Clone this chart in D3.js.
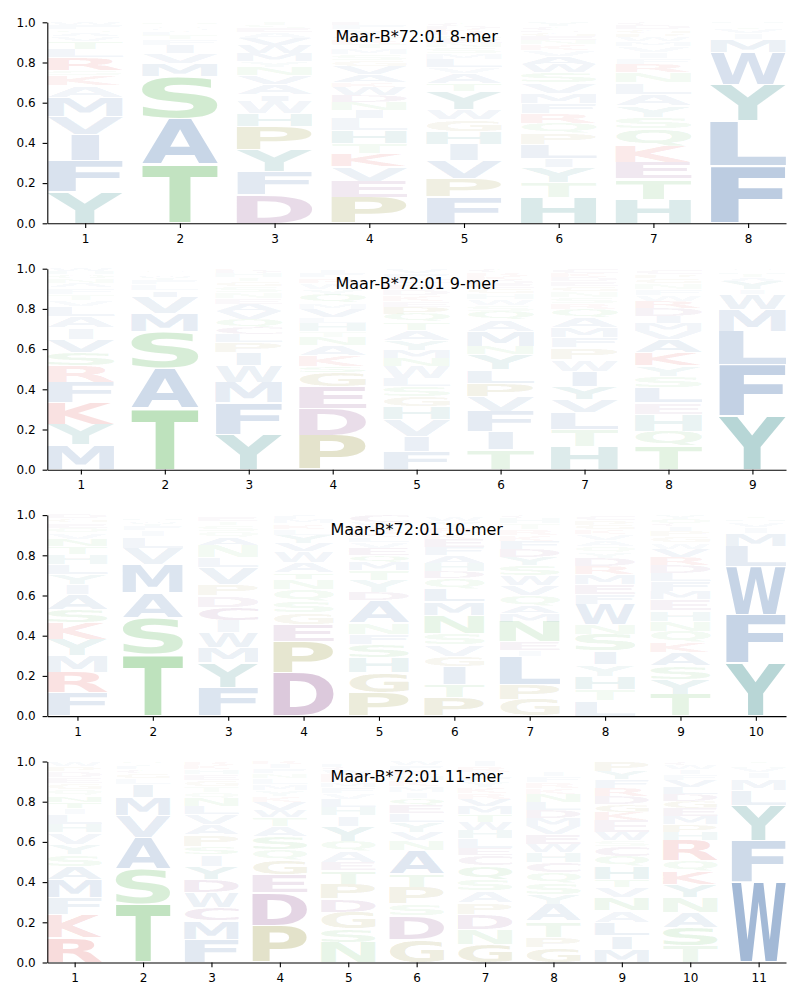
<!DOCTYPE html>
<html><head><meta charset="utf-8">
<script src="https://cdn.jsdelivr.net/npm/d3@7"></script>
<style>body{margin:0;background:#fff}</style>
</head><body>
<svg id="chart" width="800" height="1000"></svg>
<script>
// ---------- data (each column: letters from bottom to top, "Letter+frequency") ----------
const titles = ["Maar-B*72:01 8-mer", "Maar-B*72:01 9-mer", "Maar-B*72:01 10-mer", "Maar-B*72:01 11-mer"];
const yTicks = [0, 0.2, 0.4, 0.6, 0.8, 1.0];

const mer8 = [
  "Y.157 F.155 I.13 V.09 M.095 A.06 K.05 S.025 R.065 L.04 T.04 V.02 A.02 Q.015 F.02 W.018",
  "T.29 A.23 S.21 M.066 V.05 I.04 F.03 T.02 L.015 Y.01 W.01 Q.01 C.01 N.009",
  "D.14 F.115 Y.11 P.115 H.066 W.06 I.033 A.05 V.045 N.04 Y.03 M.04 W.04 V.035 A.03 E.02 S.015 T.015",
  "P.13 E.08 V.07 K.066 T.05 H.066 L.06 I.04 N.04 D.035 W.04 K.025 A.04 V.04 G.03 S.03 M.03 T.02 R.02 Q.02 Y.03 F.02 E.018",
  "F.13 P.09 V.09 I.08 H.066 G.058 W.05 Y.09 T.04 A.05 V.03 L.04 M.03 S.03 N.02 E.02 Q.02 R.015 K.015 D.016 C.02",
  "H.13 T.075 Y.075 I.04 L.07 P.058 Q.05 R.05 F.05 M.05 V.05 S.05 W.04 A.04 V.03 K.03 N.02 E.02 G.02 D.012 C.02 Y.02",
  "H.12 T.1 E.083 K.083 Q.083 S.058 Y.058 A.058 L.058 N.05 R.04 F.03 I.03 V.03 M.025 W.02 P.02 G.02 D.02 C.014",
  "F.285 L.224 Y.18 W.16 M.066 I.03 V.02 T.01 A.01 S.008 H.007"
];
const mer9 = [
  "M.125 Y.1 K.108 F.1 R.083 S.066 V.066 I.058 A.058 L.05 V.03 T.03 F.03 A.025 N.02 Q.02 H.015 W.016",
  "T.305 A.2 S.18 M.09 V.083 I.033 L.03 F.02 Y.015 W.012 C.012 Q.01 G.01",
  "Y.175 F.158 M.1 W.083 I.066 P.05 L.04 C.035 Q.04 V.04 A.035 E.03 N.03 S.03 G.025 T.02 H.02 D.015 K.008",
  "P.17 D.133 E.108 G.07 S.033 K.055 A.05 N.04 T.03 H.04 L.03 V.04 M.03 Q.04 Y.03 W.03 R.025 F.02 I.015 C.011",
  "F.09 I.075 V.083 H.066 G.05 S.05 L.04 W.06 N.04 M.04 Y.05 A.05 T.04 Q.04 P.035 E.03 K.03 D.03 R.025 C.026 F.025 V.025",
  "T.1 I.09 F.1 V.075 P.066 L.066 Y.075 N.04 M.075 A.06 Q.04 S.03 W.03 H.03 G.025 E.02 D.02 K.02 R.018 C.02",
  "H.117 T.083 L.083 V.066 Y.066 I.075 W.058 P.058 F.05 M.05 A.05 Q.04 R.03 S.03 N.03 G.025 E.025 D.02 K.02 C.024",
  "T.117 Q.075 H.083 E.058 L.075 S.058 Y.05 K.066 A.066 V.04 M.04 I.035 D.04 R.035 W.03 F.03 N.03 G.025 P.02 C.025",
  "Y.267 F.253 L.167 M.108 W.075 I.025 Y.04 A.02 T.015 H.01 S.01 Q.01"
];
const mer10 = [
  "F.116 R.1 M.083 Y.083 K.083 S.066 A.075 I.05 Y.05 L.05 H.05 T.04 N.035 V.03 Q.025 E.025 G.02 D.02",
  "T.307 S.182 A.124 M.14 V.083 L.058 I.03 F.02 Y.015 W.013 H.01 C.01 Q.008",
  "F.14 Y.124 M.075 W.075 I.06 C.066 D.058 P.058 V.083 L.05 N.06 A.04 Q.03 S.03 T.02 E.02 G.011",
  "D.215 P.158 E.083 G.058 S.058 Q.058 N.05 T.033 A.05 W.058 V.04 Y.04 L.03 K.025 M.02 F.015 I.01",
  "P.116 G.1 H.075 S.066 F.05 N.058 A.108 D.04 Y.06 T.05 M.04 Q.035 E.035 V.03 L.025 K.02 R.02 I.02 W.017 C.035",
  "P.09 T.066 I.09 G.05 V.058 S.058 N.09 M.066 L.066 Q.05 D.035 H.04 A.04 F.04 E.04 K.03 R.03 Y.03 W.02 C.011",
  "G.083 P.075 L.14 I.03 E.04 N.1 M.04 A.04 Q.05 V.05 W.05 S.05 Y.04 D.04 F.04 K.03 R.03 T.03 H.027 C.015",
  "L.075 T.058 H.066 Y.058 I.066 S.083 N.05 W.1 F.05 E.05 M.05 R.04 D.04 Y.03 Q.03 A.03 V.03 K.02 G.024 P.025 C.025",
  "T.108 Y.075 S.066 A.066 K.05 Q.058 N.05 H.05 E.058 M.04 F.05 L.04 D.04 R.04 V.04 W.03 G.03 P.03 I.02 C.014 Q.025 Y.02",
  "Y.265 F.24 W.24 L.1 M.066 I.03 V.02 A.01 H.01 T.009 S.01"
];
const mer11 = [
  "R.124 K.116 F.083 M.09 A.066 S.058 Y.05 V.058 H.04 L.05 I.03 T.033 N.033 Q.03 G.03 E.03 D.03 P.025 W.024",
  "T.29 S.174 A.158 V.108 M.09 I.066 L.03 G.025 C.02 F.015 Y.012 Q.012",
  "F.116 M.09 C.066 W.075 D.066 Y.066 I.058 S.04 P.058 A.05 V.05 L.04 N.04 Q.03 T.03 G.03 E.03 H.025 K.02 R.016",
  "P.182 D.165 E.09 G.075 Q.05 S.066 A.05 T.045 W.035 V.04 K.03 Y.03 M.03 L.03 N.025 F.02 I.02 R.017",
  "N.1 S.066 G.083 D.066 P.075 T.066 E.04 A.058 Q.05 Y.075 I.05 H.04 L.04 V.03 F.03 M.025 K.02 R.02 W.02 C.016 F.015",
  "G.116 D.116 S.058 P.083 T.066 A.12 N.05 V.04 Y.05 L.04 E.04 Q.035 I.03 M.03 K.03 H.025 R.025 F.025 W.02",
  "G.09 N.075 D.075 P.058 A.058 S.058 Q.066 C.05 E.035 L.05 H.04 W.04 T.04 M.04 V.035 R.03 K.03 Y.03 F.025 I.021 R.027 I.027",
  "G.075 P.05 T.08 A.083 Y.05 S.058 Q.05 C.05 H.05 W.04 E.05 V.04 M.04 D.04 L.04 N.04 K.03 R.03 F.03 I.025",
  "M.066 I.066 L.066 A.058 N.066 V.05 T.04 H.066 Q.05 C.05 S.03 W.04 E.06 K.04 G.04 D.04 R.04 F.04 Y.04 P.052",
  "T.083 S.09 A.075 N.075 Y.066 K.066 Q.05 R.1 H.04 P.04 M.04 E.04 G.035 D.035 L.035 V.035 F.03 I.025 W.02 C.016",
  "W.4 F.207 Y.174 L.075 M.058 I.03 V.02 H.012 A.012 T.012"
];
const panels = [mer8, mer9, mer10, mer11];

// residue groups -> colour
const groups = [
  {letters: "AFILMVW", color: "#3b6aa8"},
  {letters: "STNQ",    color: "#4daf4a"},
  {letters: "DEC",     color: "#7b337b"},
  {letters: "PG",      color: "#807d10"},
  {letters: "KR",      color: "#d62728"},
  {letters: "HY",      color: "#1f7f7f"}
];
const colorOf = {};
groups.forEach(g => g.letters.split("").forEach(l => colorOf[l] = g.color));

// ---------- layout ----------
const svg = d3.select("#chart");
const left = 47.3, right = 786, top0 = 22.3, step = 246.4, plotH = 201;
const FS = 100, FONT = "'DejaVu Sans', sans-serif";

// measure tight ink bounds of each glyph
const ctx = document.createElement("canvas").getContext("2d");
ctx.font = `bold ${FS}px ${FONT}`;
const ink = {};
"ACDEFGHIKLMNPQRSTVWY".split("").forEach(l => {
  const m = ctx.measureText(l);
  ink[l] = {l: -m.actualBoundingBoxLeft, r: m.actualBoundingBoxRight,
            t: -m.actualBoundingBoxAscent, b: m.actualBoundingBoxDescent};
});
const eWidth = ink.E.r - ink.E.l;   // narrow glyphs are not stretched more than 'E'

const alpha = d3.scaleLinear().domain([0, 0.4]).range([0.02, 0.47]).clamp(true);

panels.forEach((cols, pi) => {
  const n = cols.length;
  const top = top0 + pi * step, bottom = top + plotH;
  const x = d3.scaleLinear().domain([0.6, n + 0.4]).range([left, right]);
  const y = d3.scaleLinear().domain([0, 1]).range([bottom, top]);
  const g = svg.append("g");

  // letters
  const glyphs = [];
  cols.forEach((str, ci) => {
    let cum = 0;
    str.trim().split(/\s+/).forEach(tok => {
      const L = tok[0], v = +tok.slice(1);
      glyphs.push({L, v, pos: ci + 1, y0: cum, y1: cum + v});
      cum += v;
    });
  });
  const w = 0.8;
  g.append("g").selectAll("text").data(glyphs).join("text")
    .text(d => d.L)
    .attr("font-family", FONT).attr("font-weight", "bold").attr("font-size", FS)
    .attr("fill", d => colorOf[d.L])
    .attr("fill-opacity", d => alpha(d.v))
    .attr("transform", d => {
      const b = ink[d.L];
      const x0 = x(d.pos - w / 2), x1 = x(d.pos + w / 2);
      let yb = y(d.y0), yt = y(d.y1);
      const hp = yb - yt, pad = 0.4 + 0.012 * hp;
      yb -= pad; yt += pad;
      const gw = b.r - b.l;
      const sx = (x1 - x0) / Math.max(gw, eWidth);
      const xs = (x0 + x1) / 2 - gw * sx / 2;
      const sy = Math.max(0.01, yb - yt) / (b.b - b.t);
      return `translate(${xs},${yt}) scale(${sx},${sy}) translate(${-b.l},${-b.t})`;
    });

  // axes
  const xa = g.append("g").attr("transform", `translate(0,${bottom})`)
    .call(d3.axisBottom(x).tickValues(d3.range(1, n + 1)).tickSize(4.7).tickSizeOuter(0).tickPadding(6.3));
  const ya = g.append("g").attr("transform", `translate(${left},0)`)
    .call(d3.axisLeft(y).tickValues(yTicks).tickFormat(d3.format(".1f")).tickSize(4.7).tickSizeOuter(0).tickPadding(7));
  [xa, ya].forEach(a => {
    a.selectAll("text").attr("font-family", FONT).attr("font-size", 12).attr("fill", "#000");
    a.selectAll("line, path").attr("stroke", "#000").attr("stroke-width", 1.1);
  });

  // title
  g.append("text").text(titles[pi])
    .attr("x", (left + right) / 2).attr("y", top + 20)
    .attr("text-anchor", "middle")
    .attr("font-family", FONT).attr("font-size", 16).attr("fill", "#000");
});
</script>
</body></html>
